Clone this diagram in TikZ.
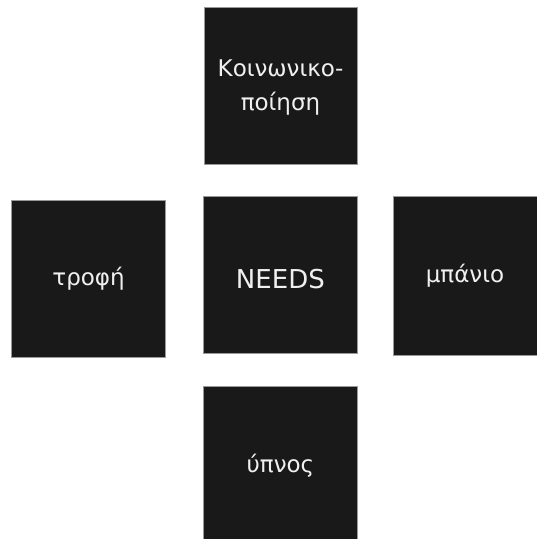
\documentclass[tikz,border=0pt]{standalone}
\usepackage{fontspec}
\setmainfont{DejaVu Sans}
\begin{document}
\begin{tikzpicture}[x=1pt,y=-1pt,
  box/.style={draw=black!40,line width=0.6pt,fill=black!90},
  lbl/.style={text=black!6,font=\fontsize{23}{34}\selectfont,align=center}]
\useasboundingbox (0,0) rectangle (537,539);
\path[box] (204,7.5) rectangle (357.5,164);
\node[lbl] (top) at (280.5,88) {Κοινωνικο-\\ποίηση};
\path[box] (11.7,200) rectangle (165.5,357.5);
\node[lbl] (left) at (88.6,279) {τροφή};
\path[box] (203.5,196.7) rectangle (357.3,353.3);
\node[lbl,font=\fontsize{26}{34}\selectfont] (center) at (280.4,279) {NEEDS};
\path[box] (393,196.7) rectangle (540,355);
\node[lbl] (right) at (465,276) {μπάνιο};
\path[box] (203.5,386) rectangle (357.3,545);
\node[lbl] (bottom) at (280.4,466) {ύπνος};
\end{tikzpicture}
\end{document}
